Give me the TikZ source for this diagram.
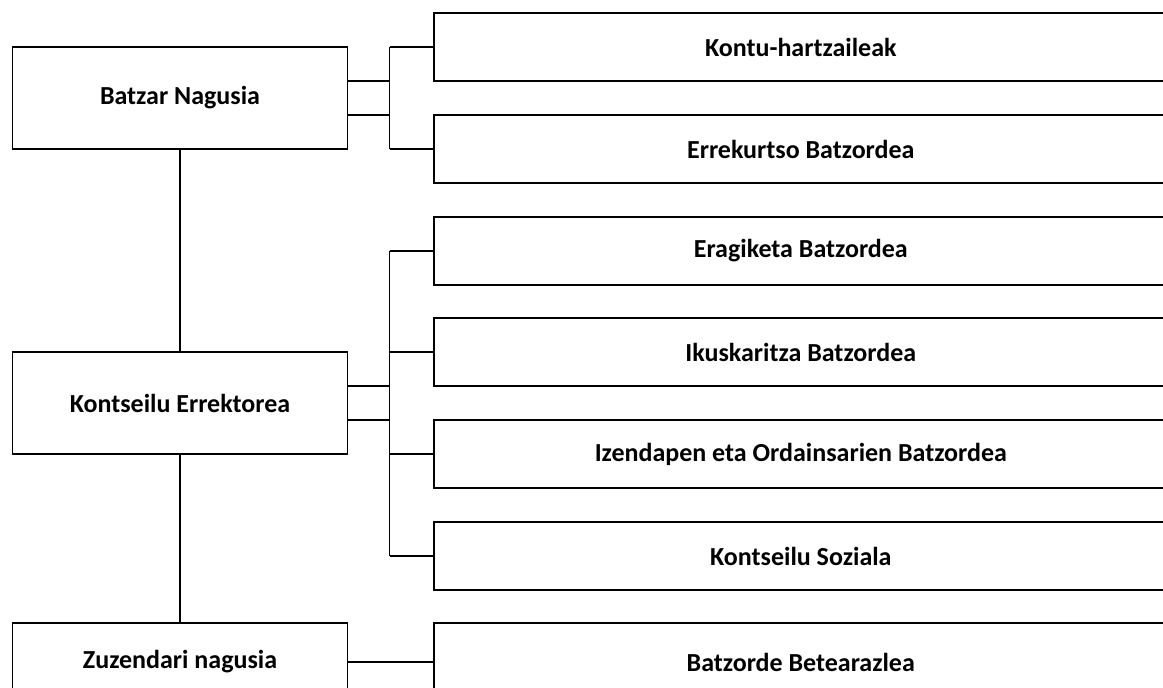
\documentclass[tikz,border=0pt]{standalone}
\usepackage{fontspec}
\setmainfont{Carlito}
\begin{document}
\begin{tikzpicture}[x=1pt,y=-1pt,line width=1.6pt,
    leftbox/.style={draw,rectangle,minimum width=335pt,minimum height=102pt,inner sep=0pt,font=\fontsize{26}{30}\bfseries},
    rightbox/.style={draw,rectangle,anchor=west,minimum width=734pt,minimum height=68pt,inner sep=0pt,font=\fontsize{26}{30}\bfseries}]
  \clip (0,0) rectangle (1163,688);
  % left column
  \node[leftbox] (batzar) at (180,98) {Batzar Nagusia};
  \node[leftbox] (kontseilu) at (180,403) {Kontseilu Errektorea};
  \node[leftbox,minimum height=78pt] (zuzendari) at (180,662) {Zuzendari nagusia};
  % right column
  \node[rightbox] (kontu) at (433,47) {Kontu-hartzaileak};
  \node[rightbox] (errekurtso) at (433,149) {Errekurtso Batzordea};
  \node[rightbox] (eragiketa) at (433,251) {Eragiketa Batzordea};
  \node[rightbox] (ikuskaritza) at (433,352) {Ikuskaritza Batzordea};
  \node[rightbox] (izendapen) at (433,454) {Izendapen eta Ordainsarien Batzordea};
  \node[rightbox] (soziala) at (433,556) {Kontseilu Soziala};
  \node[rightbox,minimum height=78pt] (betearazlea) at (433,662) {Batzorde Betearazlea};
  % buses
  \coordinate (bus) at (389.5,0);
  \coordinate (batzarhi) at ([yshift=17pt]batzar.east);
  \coordinate (batzarlo) at ([yshift=-17pt]batzar.east);
  \coordinate (kontseiluhi) at ([yshift=17pt]kontseilu.east);
  \coordinate (kontseilulo) at ([yshift=-17pt]kontseilu.east);
  % connectors
  \draw (batzar) -- (kontseilu);
  \draw (kontseilu) -- (zuzendari);
  \draw (batzarhi) -- (bus |- batzarhi);
  \draw (batzarlo) -- (bus |- batzarlo);
  \draw (kontseiluhi) -- (bus |- kontseiluhi);
  \draw (kontseilulo) -- (bus |- kontseilulo);
  \draw (bus |- kontu.west) -- (bus |- errekurtso.west);
  \draw (bus |- eragiketa.west) -- (bus |- soziala.west);
  \foreach \b in {kontu,errekurtso,eragiketa,ikuskaritza,izendapen,soziala}
    \draw (bus |- \b.west) -- (\b.west);
  \draw (zuzendari) -- (betearazlea);
\end{tikzpicture}
\end{document}
